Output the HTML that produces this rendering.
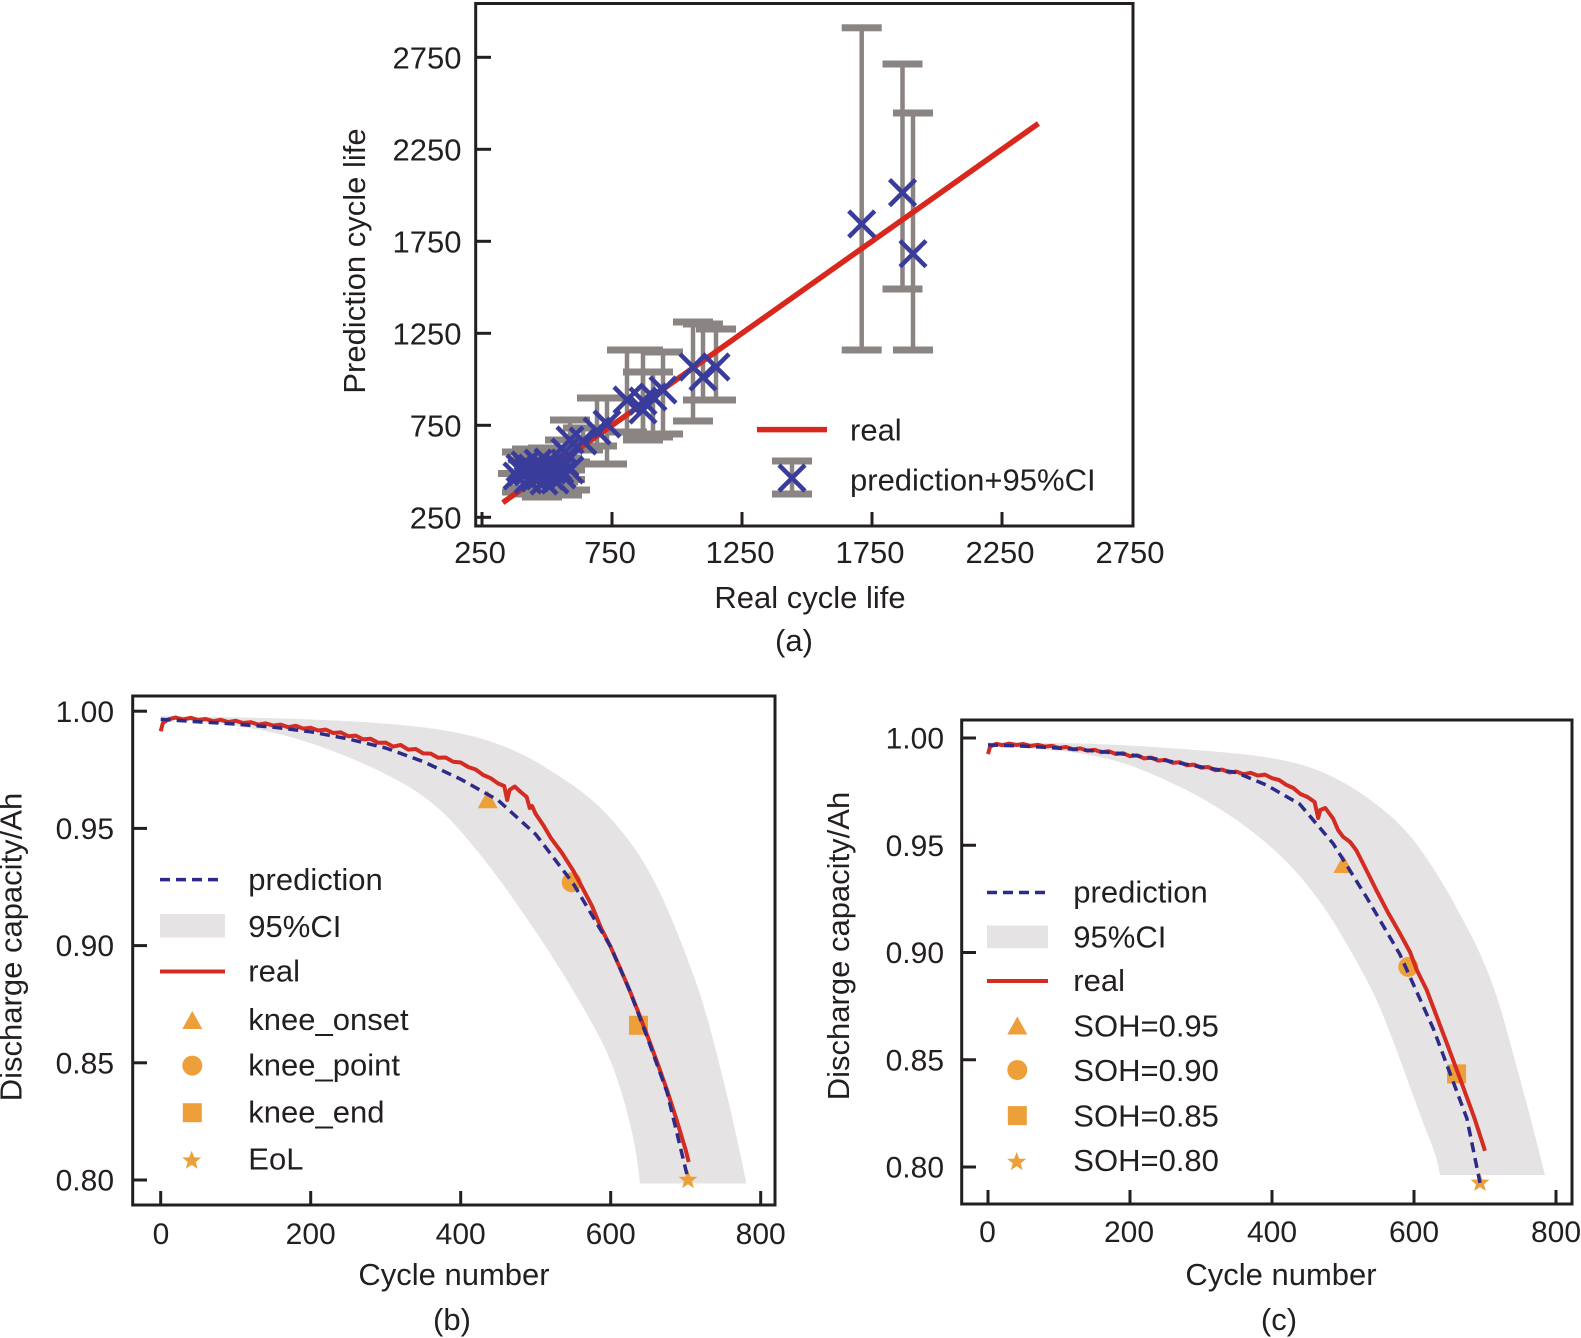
<!DOCTYPE html>
<html>
<head>
<meta charset="utf-8">
<style>
html,body{margin:0;padding:0;background:#fff;}
svg{display:block;}
text{font-family:"Liberation Sans",Arial,sans-serif;fill:#231f20;}
.t30{font-size:30px;}
.t31{font-size:31px;}
</style>
</head>
<body>
<svg width="1581" height="1338" viewBox="0 0 1581 1338" xmlns="http://www.w3.org/2000/svg">
<defs>
  <g id="xm"><path d="M-13,-13 L13,13 M-13,13 L13,-13" stroke="#3a3c9c" stroke-width="4.5" fill="none"/></g>
  <polygon id="star" points="0,-10 2.47,-3.4 9.51,-3.09 4,1.3 5.88,8.09 0,4.2 -5.88,8.09 -4,1.3 -9.51,-3.09 -2.47,-3.4" fill="#eda03a"/>
  <polygon id="tri" points="0,-10 -10,8 10,8" fill="#eda03a"/>
  <circle id="circ" cx="0" cy="0" r="10" fill="#eda03a"/>
  <rect id="sq" x="-9.5" y="-9.5" width="19" height="19" fill="#eda03a"/>
</defs>
<rect width="1581" height="1338" fill="#fff"/>

<!-- ================= PANEL (a) ================= -->
<g id="errbars" stroke="#8a8482" fill="#8a8482">
  <line x1="861.7" y1="27.8" x2="861.7" y2="350" stroke-width="4.5"/>
  <rect x="841.7" y="24.3" width="40" height="7" stroke="none"/>
  <rect x="841.7" y="346.5" width="40" height="7" stroke="none"/>
  <line x1="902.5" y1="64" x2="902.5" y2="289" stroke-width="4.5"/>
  <rect x="882.5" y="60.5" width="40" height="7" stroke="none"/>
  <rect x="882.5" y="285.5" width="40" height="7" stroke="none"/>
  <line x1="913" y1="113" x2="913" y2="350" stroke-width="4.5"/>
  <rect x="893" y="109.5" width="40" height="7" stroke="none"/>
  <rect x="893" y="346.5" width="40" height="7" stroke="none"/>
  <g stroke-width="4.5">
    <line x1="522" y1="452" x2="522" y2="492"/><line x1="532" y1="449" x2="532" y2="494"/>
    <line x1="542" y1="455" x2="542" y2="497"/><line x1="552" y1="450" x2="552" y2="490"/>
    <line x1="562" y1="458" x2="562" y2="495"/><line x1="528" y1="460" x2="528" y2="488"/>
    <line x1="548" y1="448" x2="548" y2="485"/><line x1="558" y1="460" x2="558" y2="482"/>
    <line x1="538" y1="455" x2="538" y2="493"/><line x1="570" y1="462" x2="570" y2="490"/>
    <line x1="565" y1="440" x2="565" y2="470"/><line x1="570" y1="420" x2="570" y2="464"/>
    <line x1="583" y1="428" x2="583" y2="450"/><line x1="597" y1="398" x2="597" y2="446"/>
    <line x1="607" y1="398" x2="607" y2="464"/><line x1="627" y1="350" x2="627" y2="432"/>
    <line x1="643" y1="350" x2="643" y2="435"/><line x1="653" y1="372" x2="653" y2="437"/>
    <line x1="643" y1="372" x2="643" y2="440"/><line x1="663" y1="352" x2="663" y2="434"/>
    <line x1="693" y1="322" x2="693" y2="421"/><line x1="703" y1="324" x2="703" y2="400"/>
    <line x1="716" y1="329" x2="716" y2="400"/>
  </g>
  <g stroke="none">
    <rect x="502" y="448.5" width="40" height="7"/><rect x="502" y="488.5" width="40" height="7"/>
    <rect x="512" y="445.5" width="40" height="7"/><rect x="512" y="490.5" width="40" height="7"/>
    <rect x="522" y="451.5" width="40" height="7"/><rect x="522" y="493.5" width="40" height="7"/>
    <rect x="532" y="446.5" width="40" height="7"/><rect x="532" y="486.5" width="40" height="7"/>
    <rect x="542" y="454.5" width="40" height="7"/><rect x="542" y="491.5" width="40" height="7"/>
    <rect x="508" y="456.5" width="40" height="7"/><rect x="508" y="484.5" width="40" height="7"/>
    <rect x="528" y="444.5" width="40" height="7"/><rect x="528" y="481.5" width="40" height="7"/>
    <rect x="538" y="456.5" width="40" height="7"/><rect x="538" y="478.5" width="40" height="7"/>
    <rect x="518" y="451.5" width="40" height="7"/><rect x="518" y="489.5" width="40" height="7"/>
    <rect x="550" y="458.5" width="40" height="7"/><rect x="550" y="486.5" width="40" height="7"/>
    <rect x="545" y="436.5" width="40" height="7"/><rect x="545" y="466.5" width="40" height="7"/>
    <rect x="550" y="416.5" width="40" height="7"/><rect x="550" y="460.5" width="40" height="7"/>
    <rect x="563" y="424.5" width="40" height="7"/><rect x="563" y="446.5" width="40" height="7"/>
    <rect x="577" y="394.5" width="40" height="7"/><rect x="577" y="442.5" width="40" height="7"/>
    <rect x="587" y="394.5" width="40" height="7"/><rect x="587" y="460.5" width="40" height="7"/>
    <rect x="607" y="346.5" width="40" height="7"/><rect x="607" y="428.5" width="40" height="7"/>
    <rect x="623" y="346.5" width="40" height="7"/><rect x="623" y="431.5" width="40" height="7"/>
    <rect x="633" y="368.5" width="40" height="7"/><rect x="633" y="433.5" width="40" height="7"/>
    <rect x="623" y="368.5" width="40" height="7"/><rect x="623" y="436.5" width="40" height="7"/>
    <rect x="643" y="348.5" width="40" height="7"/><rect x="643" y="430.5" width="40" height="7"/>
    <rect x="673" y="318.5" width="40" height="7"/><rect x="673" y="417.5" width="40" height="7"/>
    <rect x="683" y="320.5" width="40" height="7"/><rect x="683" y="396.5" width="40" height="7"/>
    <rect x="696" y="325.5" width="40" height="7"/><rect x="696" y="396.5" width="40" height="7"/>
    <rect x="498" y="470" width="30" height="7"/><rect x="560" y="476" width="25" height="7"/>
  </g>
</g>
<line x1="502.8" y1="502.6" x2="1038.4" y2="123.5" stroke="#d8281e" stroke-width="5.5"/>
<g>
  <use href="#xm" x="861.7" y="224"/><use href="#xm" x="902.5" y="192.6"/><use href="#xm" x="913" y="253.7"/>
  <use href="#xm" x="522" y="472"/><use href="#xm" x="532" y="468"/><use href="#xm" x="542" y="474"/>
  <use href="#xm" x="552" y="470"/><use href="#xm" x="562" y="475"/><use href="#xm" x="528" y="480"/>
  <use href="#xm" x="548" y="462"/><use href="#xm" x="558" y="467"/><use href="#xm" x="538" y="463"/>
  <use href="#xm" x="570" y="470"/>
  <use href="#xm" x="517" y="476"/><use href="#xm" x="525" y="465"/><use href="#xm" x="535" y="478"/>
  <use href="#xm" x="545" y="468"/><use href="#xm" x="555" y="480"/><use href="#xm" x="565" y="463"/>
  <use href="#xm" x="528" y="472"/><use href="#xm" x="540" y="470"/><use href="#xm" x="550" y="476"/>
  <use href="#xm" x="560" y="470"/><use href="#xm" x="520" y="468"/><use href="#xm" x="544" y="481"/>
  <use href="#xm" x="565" y="452"/><use href="#xm" x="570" y="440"/>
  <use href="#xm" x="583" y="441"/><use href="#xm" x="597" y="431"/><use href="#xm" x="607" y="424"/>
  <use href="#xm" x="627" y="400"/><use href="#xm" x="643" y="401"/><use href="#xm" x="653" y="397"/>
  <use href="#xm" x="643" y="410"/><use href="#xm" x="663" y="390"/><use href="#xm" x="693" y="367"/>
  <use href="#xm" x="703" y="377"/><use href="#xm" x="716" y="367"/>
</g>
<rect x="475.7" y="3.5" width="657.3" height="522.5" fill="none" stroke="#231f20" stroke-width="3"/>
<g stroke="#231f20" stroke-width="3">
  <line x1="475.7" y1="57.3" x2="491" y2="57.3"/><line x1="475.7" y1="149.3" x2="491" y2="149.3"/>
  <line x1="475.7" y1="241.3" x2="491" y2="241.3"/><line x1="475.7" y1="333.3" x2="491" y2="333.3"/>
  <line x1="475.7" y1="425.3" x2="491" y2="425.3"/><line x1="475.7" y1="517.3" x2="491" y2="517.3"/>
  <line x1="482" y1="526" x2="482" y2="512"/><line x1="612" y1="526" x2="612" y2="512"/>
  <line x1="742" y1="526" x2="742" y2="512"/><line x1="872" y1="526" x2="872" y2="512"/>
  <line x1="1002" y1="526" x2="1002" y2="512"/>
</g>
<g class="t31" text-anchor="end">
  <text x="461.5" y="68.5">2750</text><text x="461.5" y="160.5">2250</text>
  <text x="461.5" y="252.5">1750</text><text x="461.5" y="344.5">1250</text>
  <text x="461.5" y="436.5">750</text><text x="461.5" y="528.5">250</text>
</g>
<g class="t31" text-anchor="middle">
  <text x="480" y="563">250</text><text x="610" y="563">750</text>
  <text x="740" y="563">1250</text><text x="870" y="563">1750</text>
  <text x="1000" y="563">2250</text><text x="1130" y="563">2750</text>
  <text x="810" y="608">Real cycle life</text>
  <text x="794" y="651">(a)</text>
</g>
<text class="t31" text-anchor="middle" transform="translate(365,261) rotate(-90)">Prediction cycle life</text>
<line x1="757" y1="429.6" x2="827" y2="429.6" stroke="#d8281e" stroke-width="5.5"/>
<text class="t31" x="850" y="440.6">real</text>
<line x1="792" y1="461" x2="792" y2="494" stroke="#8a8482" stroke-width="4.5"/>
<rect x="772" y="457.5" width="40" height="7" fill="#8a8482"/>
<rect x="772" y="490.5" width="40" height="7" fill="#8a8482"/>
<use href="#xm" x="792" y="478"/>
<text class="t31" x="850" y="490.6">prediction+95%CI</text>

<!-- ================= PANEL (b) ================= -->
<path d="M160.7,716 L230.35,717.25 Q300,718.5 350,721.25 Q400,724 435,729 Q470,734 495,743 Q520,752 541.5,765 Q563,778 580,790.5 Q597,803 612.5,820.5 Q628,838 639,855 Q650,872 660,893 Q670,914 679,937 Q688,960 695.5,981 Q703,1002 710.5,1030 Q718,1058 725.5,1089 Q733,1120 739.75,1151.75 L746.5,1183.5 L640,1183.5 L638,1166.75 Q636,1150 631.5,1130 Q627,1110 619.5,1086 Q612,1062 603,1044 Q594,1026 577,997 Q560,968 540,938 Q520,908 500,880.5 Q480,853 456.5,826.5 Q433,800 401.5,782.5 Q370,765 330,750 Q290,735 255,729 Q220,723 190.35,721 L160.7,719 Z" fill="#e5e3e3"/>
<use href="#tri" x="487.7" y="800.3"/>
<use href="#circ" x="571.7" y="882.3"/>
<use href="#sq" x="638.5" y="1025.3"/>
<use href="#star" x="688" y="1180"/>
<polyline fill="none" stroke="#d42b22" stroke-width="4" stroke-linejoin="round" points="160.7,731.3 162.9,722.9 168.2,719.4 175.7,717.5 183.2,719.5 190.7,717.8 198.2,720 205.7,719 213.2,721.2 220.7,719.8 228.2,722 235.7,720.8 243.2,723 250.7,722.2 258.2,724.6 265.7,723.4 273.2,725.6 280.7,724.6 288.2,727.2 295.7,725.8 303.2,728.6 310.7,727.8 318.2,730.5 325.7,729.6 333.2,733 340.7,732.4 348.2,736.2 355.7,735.6 363.2,739.4 370.7,738.8 378.2,742.8 385.7,742.6 393.2,746.6 400.7,745 408.2,749.6 415.7,749 423.2,753.4 430.7,753.6 438.2,757.8 445.7,757.5 453.2,761.8 460.7,762.5 468.2,767 475.7,769.5 483.2,775 490.7,778.2 498.2,783.5 504.2,786 507.2,800 509.5,790 514.7,786.5 520.7,792 526.7,797 529.7,808 532,806 535.7,814 543.2,825 550.7,837.8 562,853 573.2,870.6 582,887 592,906 601,928 610.7,947 620,968 629.45,990 639,1014 648.2,1038 657,1062 667,1090 676,1118 685.7,1150 688.7,1162"/>
<polyline fill="none" stroke="#2d2b88" stroke-width="3.5" stroke-dasharray="10 6" points="160.7,719.4 198.2,721.8 235.7,724.1 273.2,727.2 310.7,731.8 348.2,738.9 385.7,748 423.2,761.6 460.7,779.2 498.2,800.3 535.7,834.3 573.2,883.5 610.7,946.8 629.45,990 648.2,1040 666.95,1092 688,1178.8"/>
<rect x="132.7" y="696" width="642.3" height="509" fill="none" stroke="#231f20" stroke-width="3"/>
<g stroke="#231f20" stroke-width="3">
  <line x1="132.7" y1="711.2" x2="147" y2="711.2"/><line x1="132.7" y1="828.4" x2="147" y2="828.4"/>
  <line x1="132.7" y1="945.6" x2="147" y2="945.6"/><line x1="132.7" y1="1062.8" x2="147" y2="1062.8"/>
  <line x1="132.7" y1="1180" x2="147" y2="1180"/>
  <line x1="160.7" y1="1205" x2="160.7" y2="1191"/><line x1="310.7" y1="1205" x2="310.7" y2="1191"/>
  <line x1="460.7" y1="1205" x2="460.7" y2="1191"/><line x1="610.7" y1="1205" x2="610.7" y2="1191"/>
  <line x1="760.7" y1="1205" x2="760.7" y2="1191"/>
</g>
<g class="t30" text-anchor="end">
  <text x="114" y="721.8">1.00</text><text x="114" y="839">0.95</text>
  <text x="114" y="956.2">0.90</text><text x="114" y="1073.4">0.85</text>
  <text x="114" y="1190.6">0.80</text>
</g>
<g class="t30" text-anchor="middle">
  <text x="161" y="1244">0</text><text x="310.7" y="1244">200</text>
  <text x="460.7" y="1244">400</text><text x="610.7" y="1244">600</text>
  <text x="760.7" y="1244">800</text>
</g>
<text class="t31" x="454" y="1285" text-anchor="middle">Cycle number</text>
<text class="t31" x="452" y="1330" text-anchor="middle">(b)</text>
<text class="t31" text-anchor="middle" transform="translate(21.5,947) rotate(-90)">Discharge capacity/Ah</text>
<line x1="160" y1="879.6" x2="222" y2="879.6" stroke="#2d2b88" stroke-width="3.5" stroke-dasharray="10 6"/>
<rect x="160" y="914" width="65" height="23.5" fill="#e5e3e3"/>
<line x1="160" y1="971.5" x2="225" y2="971.5" stroke="#d42b22" stroke-width="4"/>
<use href="#tri" x="192.3" y="1021"/>
<use href="#circ" x="192.3" y="1065.6"/>
<use href="#sq" x="192.3" y="1112.7"/>
<use href="#star" x="191.7" y="1160.7"/>
<g class="t31">
  <text x="248.3" y="890">prediction</text>
  <text x="248.3" y="936.8">95%CI</text>
  <text x="248.3" y="981.5">real</text>
  <text x="248.3" y="1029.9">knee_onset</text>
  <text x="248.3" y="1075.6">knee_point</text>
  <text x="248.3" y="1122.7">knee_end</text>
  <text x="248.3" y="1169.7">EoL</text>
</g>

<!-- ================= PANEL (c) ================= -->
<path d="M988,742.3 L1044,742.9 Q1100,743.5 1150,746.75 Q1200,750 1236,753.5 Q1272,757 1297,763.5 Q1322,770 1346,784 Q1370,798 1390,815.5 Q1410,833 1426.5,858 Q1443,883 1455,905 Q1467,927 1474.5,942 Q1482,957 1490.25,978.5 Q1498.5,1000 1506.25,1028.5 Q1514,1057 1521.5,1084.5 Q1529,1112 1537,1143.5 L1545,1175 L1440,1175 L1438,1165 Q1436,1155 1430.5,1141.5 Q1425,1128 1417.5,1107.5 Q1410,1087 1401.5,1063.5 Q1393,1040 1385,1020 Q1377,1000 1368.5,983.5 Q1360,967 1343.5,938.5 Q1327,910 1310,888.5 Q1293,867 1276.5,852 Q1260,837 1245,826 Q1230,815 1206.5,801 Q1183,787 1143.5,770.5 Q1104,754 1046,749.65 L988,745.3 Z" fill="#e5e3e3"/>
<use href="#tri" x="1343.4" y="865"/>
<use href="#circ" x="1408.3" y="966.9"/>
<use href="#sq" x="1456.6" y="1073.9"/>
<use href="#star" x="1480" y="1182.9"/>
<polyline fill="none" stroke="#d42b22" stroke-width="4" stroke-linejoin="round" points="988,754.1 990.1,746.6 996.5,743.8 1002.2,745.2 1009.3,743.6 1016.4,745 1023.5,744 1030.6,746 1037.7,744.8 1044.8,746.6 1051.9,745.8 1059,748 1066.1,747 1073.2,749.4 1080.3,748.4 1087.4,750.6 1094.5,749.8 1101.6,752.2 1108.7,751.2 1115.8,754 1122.9,753.2 1130,756.2 1137.1,755.4 1144.2,758.4 1151.3,757.6 1158.4,760.6 1165.5,759.8 1172.6,762.8 1179.7,762.2 1186.8,765.2 1193.9,764.6 1201,767.6 1208.1,767 1215.2,770.2 1222.3,769.6 1229.4,772.4 1236.5,771.6 1243.6,774.2 1250.7,772.8 1257.8,775.6 1264.9,774.6 1272,778.2 1279.1,780 1286.2,784.8 1293.3,788 1300.4,794 1307.5,797 1314.6,802 1318.2,818 1320.3,810 1325.3,808 1333.1,818.6 1338,830 1343,836.7 1350.1,842 1356.5,850.6 1364.3,866 1376.4,890.3 1387.7,912 1399.8,933.2 1410,952 1416.8,970 1426.7,990 1433.5,1008 1446.7,1043 1460.2,1079.1 1474.4,1118 1485,1150.7"/>
<polyline fill="none" stroke="#2d2b88" stroke-width="3.5" stroke-dasharray="10 6" points="988,744.9 1023.5,746.1 1059,748.1 1094.5,750.9 1130,754.7 1165.5,760.5 1201,766.9 1236.5,772.6 1266.3,785 1299.7,804.1 1333.1,843.5 1366.4,897 1399.8,954.2 1433.5,1029.1 1466.9,1118.5 1480,1182.9"/>
<rect x="961.7" y="720" width="610.3" height="484" fill="none" stroke="#231f20" stroke-width="3"/>
<g stroke="#231f20" stroke-width="3">
  <line x1="961.7" y1="738" x2="976" y2="738"/><line x1="961.7" y1="845.25" x2="976" y2="845.25"/>
  <line x1="961.7" y1="952.5" x2="976" y2="952.5"/><line x1="961.7" y1="1059.75" x2="976" y2="1059.75"/>
  <line x1="961.7" y1="1167" x2="976" y2="1167"/>
  <line x1="988" y1="1204" x2="988" y2="1190"/><line x1="1130" y1="1204" x2="1130" y2="1190"/>
  <line x1="1272" y1="1204" x2="1272" y2="1190"/><line x1="1414" y1="1204" x2="1414" y2="1190"/>
  <line x1="1556" y1="1204" x2="1556" y2="1190"/>
</g>
<g class="t30" text-anchor="end">
  <text x="944" y="748.6">1.00</text><text x="944" y="855.8">0.95</text>
  <text x="944" y="963.1">0.90</text><text x="944" y="1070.3">0.85</text>
  <text x="944" y="1177.6">0.80</text>
</g>
<g class="t30" text-anchor="middle">
  <text x="987.5" y="1242">0</text><text x="1129" y="1242">200</text>
  <text x="1272" y="1242">400</text><text x="1414" y="1242">600</text>
  <text x="1556" y="1242">800</text>
</g>
<text class="t31" x="1281" y="1285" text-anchor="middle">Cycle number</text>
<text class="t31" x="1279" y="1330" text-anchor="middle">(c)</text>
<text class="t31" text-anchor="middle" transform="translate(849,946) rotate(-90)">Discharge capacity/Ah</text>
<line x1="987" y1="892.5" x2="1048" y2="892.5" stroke="#2d2b88" stroke-width="3.5" stroke-dasharray="10 6"/>
<rect x="987" y="925.5" width="61" height="22.7" fill="#e5e3e3"/>
<line x1="987" y1="981" x2="1048" y2="981" stroke="#d42b22" stroke-width="4"/>
<use href="#tri" x="1017.3" y="1026.5"/>
<use href="#circ" x="1017.3" y="1070"/>
<use href="#sq" x="1017.3" y="1115.6"/>
<use href="#star" x="1016.7" y="1162"/>
<g class="t31">
  <text x="1073.3" y="902.5">prediction</text>
  <text x="1073.3" y="947.7">95%CI</text>
  <text x="1073.3" y="991">real</text>
  <text x="1073.3" y="1036.5">SOH=0.95</text>
  <text x="1073.3" y="1081">SOH=0.90</text>
  <text x="1073.3" y="1126.6">SOH=0.85</text>
  <text x="1073.3" y="1171">SOH=0.80</text>
</g>
</svg>
</body>
</html>
